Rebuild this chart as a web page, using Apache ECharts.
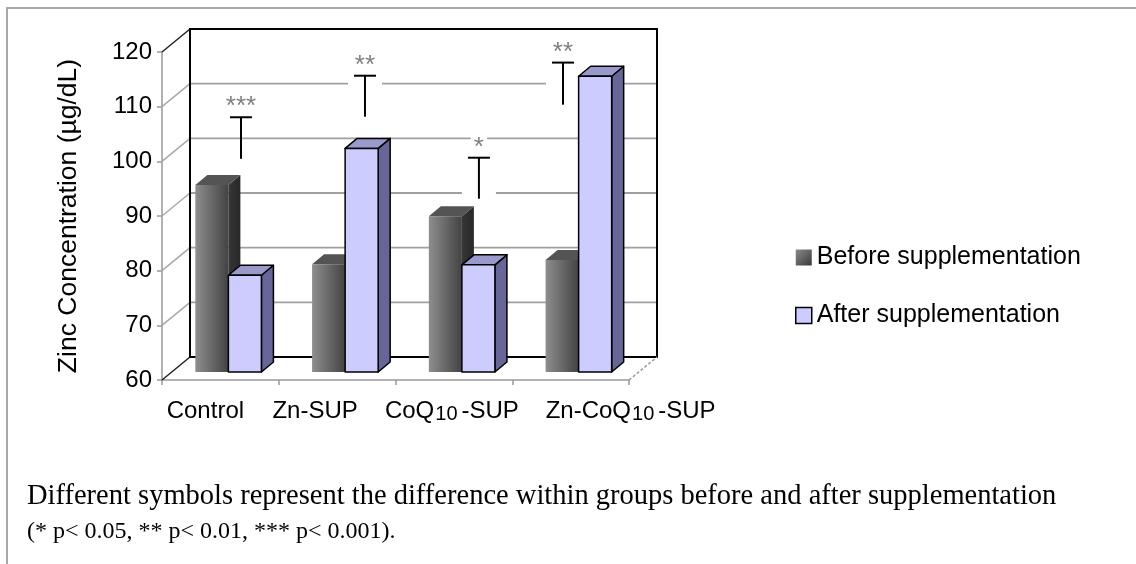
<!DOCTYPE html>
<html><head><meta charset="utf-8">
<script src="https://cdn.jsdelivr.net/npm/echarts@6/dist/echarts.min.js"></script>
<style>html,body{margin:0;padding:0;background:#fff}#c{width:1136px;height:564px}</style>
</head><body><div id="c"></div>
<script>
// ---- data ----
const categories = ['Control', 'Zn-SUP', 'CoQ10-SUP', 'Zn-CoQ10-SUP'];
const seriesNames = ['Before supplementation', 'After supplementation'];
const beforeValues = [94.2, 79.7, 88.5, 80.5];
const afterValues = [77.7, 100.9, 79.6, 114.1];
const yTicks = [60, 70, 80, 90, 100, 110, 120];
const sigLabels = ['***', '**', '*', '**'];
const sigTop = [106.6, 114.2, 99.2, 116.6];
const sigBottom = [99.0, 106.7, 91.7, 108.9];
const yAxisTitle = 'Zinc Concentration (µg/dL)';
const captionLines = [
  'Different symbols represent the difference within groups before and after supplementation',
  '(* p< 0.05, ** p< 0.01, *** p< 0.001).'
];

// ---- layout (pixels) ----
const WALL_DX = 28, WALL_DY = -23;   // depth of the whole plot box
const BAR_PX = 8, BAR_PY = -8;       // plane where the columns stand
const COL_DX = 12, COL_DY = -10;     // depth of a single column
const COL_W = 0.283;                 // column width as part of a band
const SIG_SHIFT = [0.108, 0.170, 0.146, -0.134];
const SIG_OPAQUE = [false, true, true, true];
const LABEL_SHIFT = [-15, -22, -2, 60];
const FONT = 'Liberation Sans';

const chart = echarts.init(document.getElementById('c'), null, {renderer: 'canvas'});
const G = echarts.graphic;

const beforeFront = new G.LinearGradient(0, 0, 1, 0, [
  {offset: 0, color: '#8e8e8e'}, {offset: 0.45, color: '#6c6c6c'}, {offset: 1, color: '#434343'}]);
const beforeSide = new G.LinearGradient(0, 0, 1, 0, [
  {offset: 0, color: '#363636'}, {offset: 1, color: '#282828'}]);
const legendBefore = new G.LinearGradient(0, 0, 1, 1, [
  {offset: 0, color: '#8a8a8a'}, {offset: 1, color: '#3a3a3a'}]);

function renderWalls(params, api) {
  const cs = params.coordSys;
  const X0 = cs.x, X1 = cs.x + cs.width, Yb = cs.y + cs.height;
  const ch = [];
  yTicks.forEach((v, k) => {
    const y = api.coord([0, v])[1];
    const edge = (k === 0 || k === yTicks.length - 1);
    ch.push({type: 'line', shape: {x1: X0, y1: y, x2: X0 + WALL_DX, y2: y + WALL_DY},
      style: {stroke: edge ? '#222' : '#a8a8a8', lineWidth: 1.5}});
    if (!edge) ch.push({type: 'line', shape: {x1: X0 + WALL_DX, y1: y + WALL_DY, x2: X1 + WALL_DX, y2: y + WALL_DY},
      style: {stroke: '#a0a0a0', lineWidth: 1.8}});
  });
  ch.push({type: 'rect', shape: {x: X0 + WALL_DX, y: cs.y + WALL_DY, width: cs.width, height: cs.height},
    style: {fill: 'none', stroke: '#000', lineWidth: 2}});
  ch.push({type: 'line', shape: {x1: X1, y1: Yb, x2: X1 + WALL_DX, y2: Yb + WALL_DY},
    style: {stroke: '#999', lineWidth: 1.5, lineDash: [3, 2]}});
  return {type: 'group', children: ch};
}

function makeBarRenderer(side, front, sideFill, top, stroke) {
  return function (params, api) {
    const i = api.value(0);
    const c = api.coord([i, api.value(1)]);
    const b = api.coord([i, yTicks[0]]);
    const band = api.size([1, 0])[0];
    const w = band * COL_W;
    const cx = c[0] + BAR_PX;
    const x0 = side < 0 ? cx - w : cx;
    const yt = c[1] + BAR_PY, yb = b[1] + BAR_PY;
    const st = stroke ? {stroke: '#000', lineWidth: 1.5, lineJoin: 'round'} : {};
    return {type: 'group', children: [
      {type: 'polygon', shape: {points: [[x0 + w, yt], [x0 + w + COL_DX, yt + COL_DY], [x0 + w + COL_DX, yb + COL_DY], [x0 + w, yb]]},
        style: Object.assign({fill: sideFill}, st)},
      {type: 'polygon', shape: {points: [[x0, yt], [x0 + COL_DX, yt + COL_DY], [x0 + w + COL_DX, yt + COL_DY], [x0 + w, yt]]},
        style: Object.assign({fill: top}, st)},
      {type: 'rect', shape: {x: x0, y: yt, width: w, height: yb - yt},
        style: Object.assign({fill: front}, st)}
    ]};
  };
}

function renderSig(params, api) {
  const i = api.value(0);
  const c = api.coord([i, api.value(1)]);
  const cb = api.coord([i, api.value(2)]);
  const band = api.size([1, 0])[0];
  const tx = c[0] + BAR_PX + SIG_SHIFT[i] * band;
  const yt = c[1] + BAR_PY, yb = cb[1] + BAR_PY;
  const lab = sigLabels[i];
  const sy = yt - 16;
  const ch = [];
  if (SIG_OPAQUE[i]) {
    ch.push({type: 'rect', shape: {x: tx - 17, y: yt - 6, width: 34, height: yb - yt + 10}, style: {fill: '#fff'}});
    const tw = lab.length * 10.5;
    ch.push({type: 'rect', shape: {x: tx - tw / 2 - 3, y: sy - 8, width: tw + 6, height: 16}, style: {fill: '#fff'}});
  }
  ch.push({type: 'line', shape: {x1: tx, y1: yt, x2: tx, y2: yb}, style: {stroke: '#000', lineWidth: 2}});
  ch.push({type: 'line', shape: {x1: tx - 11, y1: yt, x2: tx + 11, y2: yt}, style: {stroke: '#000', lineWidth: 2}});
  ch.push({type: 'text', style: {text: lab, x: tx, y: sy + 6, textAlign: 'center', textVerticalAlign: 'middle',
    font: '26px "' + FONT + '"', fill: '#808080'}});
  return {type: 'group', children: ch};
}

const xData = categories.map((c, i) => {
  const s = LABEL_SHIFT[i];
  return {value: c, textStyle: {padding: s < 0 ? [0, -2 * s, 0, 0] : [0, 0, 0, 2 * s]}};
});

chart.setOption({
  animation: false,
  backgroundColor: '#fff',
  title: {
    text: captionLines[0], subtext: captionLines[1], left: 27, top: 481, padding: 0, itemGap: 6,
    textStyle: {fontFamily: 'Liberation Serif', fontSize: 28.5, fontWeight: 'normal', color: '#000', lineHeight: 31},
    subtextStyle: {fontFamily: 'Liberation Serif', fontSize: 24, color: '#000', lineHeight: 28}
  },
  legend: {
    orient: 'vertical', left: 795, top: 245, padding: 0, itemWidth: 16, itemHeight: 16, itemGap: 33,
    textStyle: {fontFamily: FONT, fontSize: 25, color: '#000'},
    data: [
      {name: seriesNames[0], icon: 'rect', itemStyle: {color: legendBefore, borderWidth: 0}},
      {name: seriesNames[1], icon: 'rect', itemStyle: {color: '#ccccff', borderColor: '#000', borderWidth: 1.5}}
    ]
  },
  graphic: [{type: 'rect', shape: {x: 7, y: 8, width: 1140, height: 570},
    style: {fill: 'none', stroke: '#a8a8a8', lineWidth: 2}, silent: true}],
  grid: {left: 162, top: 52, width: 467, height: 328},
  xAxis: {
    type: 'category', data: xData, boundaryGap: true,
    axisLine: {lineStyle: {color: '#999', width: 1.5}},
    axisTick: {show: true, length: 5, alignWithLabel: false, lineStyle: {color: '#999', width: 1.5}},
    axisLabel: {
      interval: 0, margin: 18, color: '#000', fontFamily: FONT, fontSize: 24, lineHeight: 26,
      formatter: v => v.replace('Q10', 'Q{s|10}'),
      rich: {s: {fontFamily: FONT, fontSize: 20, lineHeight: 15, verticalAlign: 'bottom', padding: [0, 4, 0, 1], color: '#000'}}
    },
    splitLine: {show: false}
  },
  yAxis: {
    type: 'value', min: 60, max: 120, interval: 10,
    name: yAxisTitle, nameLocation: 'middle', nameGap: 80,
    nameTextStyle: {fontFamily: FONT, fontSize: 26.5, color: '#000'},
    axisLine: {show: true, lineStyle: {color: '#999', width: 1.5}},
    axisTick: {show: true, length: 5, lineStyle: {color: '#999', width: 1.5}},
    axisLabel: {margin: 10, color: '#000', fontFamily: FONT, fontSize: 24},
    splitLine: {show: false}
  },
  series: [
    {type: 'custom', name: 'walls', z: 1, silent: true, renderItem: renderWalls, data: [[0, 60]]},
    {type: 'custom', name: 'sig', z: 2, silent: true, renderItem: renderSig,
      data: categories.map((c, i) => [i, sigTop[i], sigBottom[i]])},
    {type: 'custom', name: seriesNames[0], z: 3, itemStyle: {color: legendBefore},
      renderItem: makeBarRenderer(-1, beforeFront, beforeSide, '#545454', false),
      data: beforeValues.map((v, i) => [i, v])},
    {type: 'custom', name: seriesNames[1], z: 4, itemStyle: {color: '#ccccff', borderColor: '#000'},
      renderItem: makeBarRenderer(1, '#ccccff', '#666699', '#9999cc', true),
      data: afterValues.map((v, i) => [i, v])}
  ]
});
</script></body></html>
